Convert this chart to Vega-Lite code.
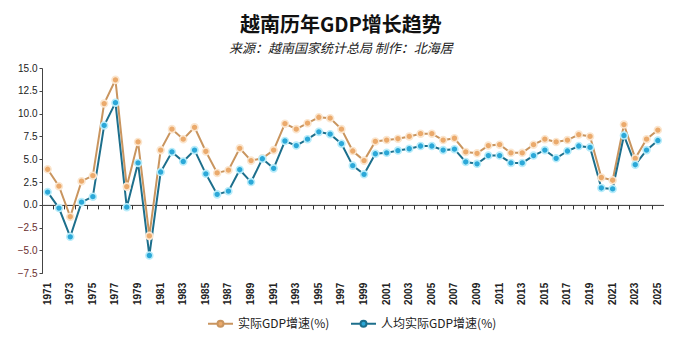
{
  "$schema": "https://vega.github.io/schema/vega-lite/v6.json",
  "width": 621.5,
  "height": 205.3,
  "autosize": {"type": "none"},
  "padding": {"left": 42, "top": 68, "right": 17.5, "bottom": 66.7},
  "background": "white",
  "title": {
    "text": "越南历年GDP增长趋势",
    "subtitle": "来源：越南国家统计总局 制作：北海居",
    "anchor": "middle",
    "frame": "bounds",
    "font": "Noto Sans CJK SC",
    "fontSize": 20,
    "fontWeight": "bold",
    "color": "#111111",
    "subtitleFont": "Noto Sans CJK SC",
    "subtitleFontSize": 13,
    "subtitleFontStyle": "italic",
    "subtitleColor": "#222222",
    "subtitlePadding": 7,
    "offset": 7
  },
  "config": {
    "view": {"stroke": null},
    "font": "Liberation Sans"
  },
  "data": {
    "values": [
      {"year": 1971, "gdp": 3.9, "pc": 1.4},
      {"year": 1972, "gdp": 2.05, "pc": -0.35},
      {"year": 1973, "gdp": -1.3, "pc": -3.5},
      {"year": 1974, "gdp": 2.6, "pc": 0.3},
      {"year": 1975, "gdp": 3.2, "pc": 0.9},
      {"year": 1976, "gdp": 11.1, "pc": 8.7},
      {"year": 1977, "gdp": 13.7, "pc": 11.2},
      {"year": 1978, "gdp": 2.0, "pc": -0.25},
      {"year": 1979, "gdp": 6.9, "pc": 4.6},
      {"year": 1980, "gdp": -3.4, "pc": -5.55},
      {"year": 1981, "gdp": 6.0, "pc": 3.6},
      {"year": 1982, "gdp": 8.3, "pc": 5.8},
      {"year": 1983, "gdp": 7.2, "pc": 4.75},
      {"year": 1984, "gdp": 8.5, "pc": 6.0},
      {"year": 1985, "gdp": 5.85, "pc": 3.4},
      {"year": 1986, "gdp": 3.5, "pc": 1.15},
      {"year": 1987, "gdp": 3.8, "pc": 1.5},
      {"year": 1988, "gdp": 6.2, "pc": 3.85},
      {"year": 1989, "gdp": 4.85, "pc": 2.5},
      {"year": 1990, "gdp": 5.1, "pc": 5.05},
      {"year": 1991, "gdp": 6.0, "pc": 4.0},
      {"year": 1992, "gdp": 8.9, "pc": 7.0},
      {"year": 1993, "gdp": 8.3, "pc": 6.5},
      {"year": 1994, "gdp": 8.95, "pc": 7.2},
      {"year": 1995, "gdp": 9.6, "pc": 8.0},
      {"year": 1996, "gdp": 9.5, "pc": 7.75},
      {"year": 1997, "gdp": 8.3, "pc": 6.7},
      {"year": 1998, "gdp": 5.9, "pc": 4.3},
      {"year": 1999, "gdp": 4.85, "pc": 3.35},
      {"year": 2000, "gdp": 6.95, "pc": 5.6},
      {"year": 2001, "gdp": 7.1, "pc": 5.7},
      {"year": 2002, "gdp": 7.25, "pc": 5.95},
      {"year": 2003, "gdp": 7.5, "pc": 6.15},
      {"year": 2004, "gdp": 7.8, "pc": 6.45},
      {"year": 2005, "gdp": 7.8, "pc": 6.45},
      {"year": 2006, "gdp": 7.1, "pc": 6.0},
      {"year": 2007, "gdp": 7.3, "pc": 6.1},
      {"year": 2008, "gdp": 5.8, "pc": 4.7},
      {"year": 2009, "gdp": 5.65, "pc": 4.5},
      {"year": 2010, "gdp": 6.5, "pc": 5.4},
      {"year": 2011, "gdp": 6.6, "pc": 5.4},
      {"year": 2012, "gdp": 5.7, "pc": 4.6},
      {"year": 2013, "gdp": 5.7, "pc": 4.6},
      {"year": 2014, "gdp": 6.6, "pc": 5.4},
      {"year": 2015, "gdp": 7.2, "pc": 6.0},
      {"year": 2016, "gdp": 6.9, "pc": 5.1},
      {"year": 2017, "gdp": 7.1, "pc": 5.9},
      {"year": 2018, "gdp": 7.7, "pc": 6.45},
      {"year": 2019, "gdp": 7.5, "pc": 6.3},
      {"year": 2020, "gdp": 3.0, "pc": 1.85},
      {"year": 2021, "gdp": 2.7, "pc": 1.75},
      {"year": 2022, "gdp": 8.8, "pc": 7.6},
      {"year": 2023, "gdp": 5.1, "pc": 4.4},
      {"year": 2024, "gdp": 7.2, "pc": 6.0},
      {"year": 2025, "gdp": 8.2, "pc": 7.05}
    ]
  },
  "transform": [{"fold": ["gdp", "pc"], "as": ["series", "value"]}],
  "resolve": {"axis": {"x": "independent"}},
  "layer": [
    {
      "mark": {"type": "line", "strokeWidth": 2},
      "encoding": {
        "x": {
          "field": "year",
          "type": "ordinal",
          "bandPosition": 0.5,
          "scale": {"type": "band", "paddingInner": 0, "paddingOuter": 0},
          "axis": {
            "title": null,
            "orient": "bottom",
            "domain": false,
            "ticks": false,
            "values": [1971,1973,1975,1977,1979,1981,1983,1985,1987,1989,1991,1993,1995,1997,1999,2001,2003,2005,2007,2009,2011,2013,2015,2017,2019,2021,2023,2025],
            "labelAngle": -90,
            "labelFontWeight": "bold",
            "labelFontSize": 10,
            "labelColor": "#222222",
            "labelPadding": 9,
            "labelOverlap": false,
            "grid": false
          }
        },
        "y": {
          "field": "value",
          "type": "quantitative",
          "scale": {"domain": [-7.5, 15], "nice": false},
          "axis": {
            "title": null,
            "values": [-7.5, -5, -2.5, 0, 2.5, 5, 7.5, 10, 12.5, 15],
            "tickCount": 10,
            "format": ".1f",
            "grid": false,
            "domain": true,
            "domainColor": "#444444",
            "ticks": true,
            "tickColor": "#444444",
            "tickSize": 3,
            "labelPadding": 2,
            "labelFontSize": 10,
            "labelOverlap": false,
            "labelFlush": false,
            "labelColor": {"condition": {"test": "datum.value < 0", "value": "#6a2e2e"}, "value": "#222222"}
          }
        },
        "color": {
          "field": "series",
          "type": "nominal",
          "scale": {"domain": ["gdp", "pc"], "range": ["#C9955F", "#1D6F8C"]},
          "legend": {
            "title": null,
            "orient": "none",
            "legendX": 165,
            "legendY": 242,
            "direction": "horizontal",
            "padding": 0,
            "columnPadding": 17,
            "labelOffset": 4,
            "labelFont": "Noto Sans CJK SC",
            "labelFontSize": 12,
            "labelColor": "#222222",
            "symbolType": "M-1,0H-0.28M0.28,0H1M-0.24,0A0.24,0.24,0,1,1,0.24,0A0.24,0.24,0,1,1,-0.24,0Z",
            "symbolSize": 625,
            "symbolStrokeWidth": 2,
            "labelExpr": "datum.label == 'gdp' ? '实际GDP增速(%)' : '人均实际GDP增速(%)'",
            "encode": {
              "symbols": {
                "update": {
                  "fill": {"scale": "color", "field": "value"},
                  "fillOpacity": {"value": 1}
                }
              }
            }
          }
        }
      }
    },
    {
      "mark": {"type": "circle", "size": 48, "opacity": 1, "strokeWidth": 1.6},
      "encoding": {
        "x": {
          "field": "year",
          "type": "ordinal",
          "bandPosition": 0.5,
          "axis": {
            "title": null,
            "orient": "bottom",
            "offset": -68.4,
            "labels": false,
            "domain": true,
            "domainColor": "#333333",
            "ticks": true,
            "bandPosition": 0,
            "tickColor": "#333333",
            "tickSize": 4,
            "grid": false
          }
        },
        "y": {"field": "value", "type": "quantitative"},
        "fill": {
          "field": "series",
          "type": "nominal",
          "scale": {"domain": ["gdp", "pc"], "range": ["#EBAA6C", "#2BA8D8"]},
          "legend": null
        },
        "stroke": {
          "field": "series",
          "type": "nominal",
          "scale": {"domain": ["gdp", "pc"], "range": ["#FBE6CF", "#B8ECFA"]},
          "legend": null
        }
      }
    }
  ]
}
